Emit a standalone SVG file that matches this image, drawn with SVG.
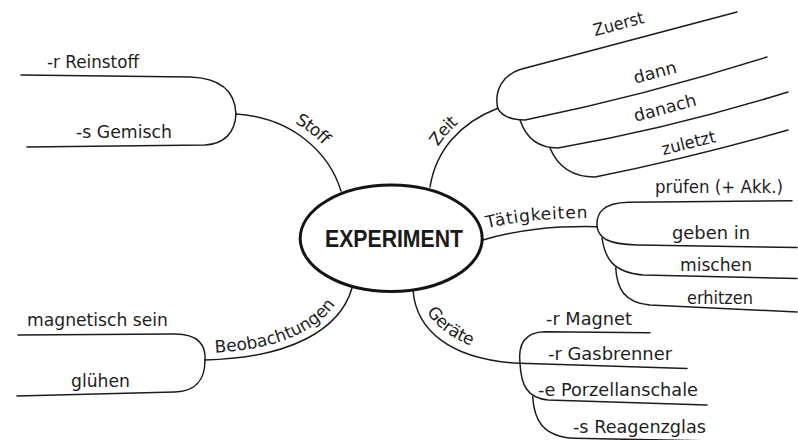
<svg xmlns="http://www.w3.org/2000/svg" width="798" height="440" viewBox="0 0 798 440">
<style>
.c{fill:none;stroke:#1c1c1c;stroke-width:1.5;stroke-linecap:round}
.t{font-family:"DejaVu Sans","Liberation Sans",sans-serif;font-size:17px;fill:#1e1e1e}
.b{font-family:"Liberation Sans",Arial,sans-serif;font-size:23px;font-weight:bold;fill:#1a1a1a}
</style>
<defs>
<path id="tpStoff" d="M238,107 C299,111 337,149 348,188"/>
<path id="tpZeit" d="M424,186 C430,146 455,119 493,101"/>
<path id="tpTat" d="M484,229 C520,220 555,218 600,218"/>
<path id="tpGer" d="M419,289 C424,324 458,352 522,355"/>
<path id="tpBeo" d="M205,353 C288,351 332,324 345,285"/>
</defs>
<rect width="798" height="440" fill="#fff"/>
<g id="connectors">
<path class="c" d="M341,191 C330,155 295,118 236,114"/>
<path class="c" d="M236,114 C235,92 222,78 190,77 L21,75"/>
<path class="c" d="M236,114 C235,132 225,144 205,145 L27,147"/>
<path class="c" d="M430,187 C436,150 460,123 497.7,108.3"/>
<path class="c" d="M497.7,108.3 C494,90 503,75 520,69.5 L737,12"/>
<path class="c" d="M497.7,108.3 C502,116 511,120 525,120 Q645,95.5 767,57"/>
<path class="c" d="M520,120 C526,138 538,148 558,148 Q672,128 788,92"/>
<path class="c" d="M550,148 C557,165 570,177 595,177 Q690,158 788,130"/>
<path class="c" d="M483,240 C520,229 555,226 597,226.7"/>
<path class="c" d="M597,226.7 C596,212 604,203 628,202.3 L792,200.7"/>
<path class="c" d="M597,226.7 C599,238 607,244 637,245 L797,247.5"/>
<path class="c" d="M602,238 C605,258 612,272 643,275 L797,278.5"/>
<path class="c" d="M615.7,268 C617,288 624,303 650,305 L797,312"/>
<path class="c" d="M413,290 C416,330 450,360 520,363.3"/>
<path class="c" d="M520,363.3 L687,368.5"/>
<path class="c" d="M520,363.3 C518,345 524,332 545,331.7 L650,332.7"/>
<path class="c" d="M520,363.3 C521,385 527,398 548,400 L707,405"/>
<path class="c" d="M532.7,396.7 C534,418 541,437 575,438.3 L716,441"/>
<path class="c" d="M352,288 C340,330 290,358 205,360"/>
<path class="c" d="M205,360 C206,345 198,334 175,334 L18,335"/>
<path class="c" d="M205,360 C205,378 198,391 175,392 L17,396"/>
</g>
<g id="center">
<ellipse cx="391.2" cy="238.3" rx="91" ry="53.2" fill="none" stroke="#141414" stroke-width="3"/>
<text class="b" x="325" y="247" textLength="138" lengthAdjust="spacingAndGlyphs">EXPERIMENT</text>
</g>
<g id="stoff">
<text class="t" letter-spacing="-0.8"><textPath href="#tpStoff" startOffset="53%" text-anchor="middle">Stoff</textPath></text>
<text class="t" x="47" y="68" textLength="92" lengthAdjust="spacingAndGlyphs">-r Reinstoff</text>
<text class="t" x="76" y="138" textLength="96" lengthAdjust="spacingAndGlyphs">-s Gemisch</text>
</g>
<g id="zeit">
<text class="t" letter-spacing="-0.8"><textPath href="#tpZeit" startOffset="50%" text-anchor="middle">Zeit</textPath></text>
<text class="t" transform="translate(620,29.5) rotate(-15)" text-anchor="middle" textLength="52" lengthAdjust="spacingAndGlyphs">Zuerst</text>
<text class="t" transform="translate(656.5,78) rotate(-15)" text-anchor="middle" textLength="44" lengthAdjust="spacingAndGlyphs">dann</text>
<text class="t" transform="translate(666.5,113.5) rotate(-15)" text-anchor="middle" textLength="64" lengthAdjust="spacingAndGlyphs">danach</text>
<text class="t" transform="translate(690,148.5) rotate(-14)" text-anchor="middle" textLength="55" lengthAdjust="spacingAndGlyphs">zuletzt</text>
</g>
<g id="taetigkeiten">
<text class="t" letter-spacing="0.8"><textPath href="#tpTat" startOffset="3">Tätigkeiten</textPath></text>
<text class="t" x="655" y="193" textLength="128" lengthAdjust="spacingAndGlyphs">prüfen (+ Akk.)</text>
<text class="t" x="672" y="238.5" textLength="78" lengthAdjust="spacingAndGlyphs">geben in</text>
<text class="t" x="680" y="270.5" textLength="72" lengthAdjust="spacingAndGlyphs">mischen</text>
<text class="t" x="687" y="303.5" textLength="66" lengthAdjust="spacingAndGlyphs">erhitzen</text>
</g>
<g id="geraete">
<text class="t" letter-spacing="-0.2"><textPath href="#tpGer" startOffset="24">Geräte</textPath></text>
<text class="t" x="546" y="325" textLength="86" lengthAdjust="spacingAndGlyphs">-r Magnet</text>
<text class="t" x="548" y="360" textLength="124" lengthAdjust="spacingAndGlyphs">-r Gasbrenner</text>
<text class="t" x="538" y="396" textLength="160" lengthAdjust="spacingAndGlyphs">-e Porzellanschale</text>
<text class="t" x="573" y="433" textLength="133" lengthAdjust="spacingAndGlyphs">-s Reagenzglas</text>
</g>
<g id="beobachtungen">
<text class="t"><textPath href="#tpBeo" startOffset="10">Beobachtungen</textPath></text>
<text class="t" x="27" y="326" textLength="141" lengthAdjust="spacingAndGlyphs">magnetisch sein</text>
<text class="t" x="71" y="387" textLength="59" lengthAdjust="spacingAndGlyphs">glühen</text>
</g>
</svg>
